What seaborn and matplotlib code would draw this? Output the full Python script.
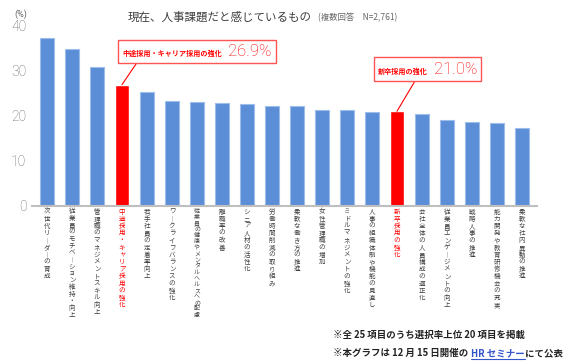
import numpy as np
import pandas as pd
import matplotlib
matplotlib.use("Agg")
import matplotlib.pyplot as plt
import matplotlib.transforms as mtransforms
import seaborn as sns
from matplotlib.offsetbox import TextArea, HPacker, AnnotationBbox
from matplotlib.lines import Line2D

# ------------------ Data ------------------
items = [
    "次世代リーダーの育成",
    "従業員のモチベーション維持・向上",
    "管理職のマネジメントスキル向上",
    "中途採用・キャリア採用の強化",
    "若手社員の定着率向上",
    "ワークライフバランスの強化",
    "従業員の健康やメンタルヘルスへの配慮",
    "離職率の改善",
    "シニア人材の活性化",
    "労働時間削減の取り組み",
    "柔軟な働き方の推進",
    "女性管理職の増加",
    "ミドルマネジメントの強化",
    "人事の組織体制や機能の見直し",
    "新卒採用の強化",
    "会社全体の人員構成の適正化",
    "従業員エンゲージメントの向上",
    "戦略人事の推進",
    "能力開発や教育研修機会の充実",
    "柔軟な社内異動の推進",
]
rates = [37.3, 34.8, 30.8, 26.9, 25.2, 23.3, 23.0, 22.8, 22.5, 22.1,
         22.1, 21.2, 21.2, 20.9, 21.0, 20.4, 19.0, 18.7, 18.3, 17.2]
highlight = ["中途採用・キャリア採用の強化", "新卒採用の強化"]
y_ticks = [0, 10, 20, 30, 40]

df = pd.DataFrame({"item": items, "rate": rates})

BLUE = "#5B8ED6"
RED = "#FF0000"
colors = {k: (RED if k in highlight else BLUE) for k in items}

sns.set_style("white")
plt.rcParams["font.family"] = ["Noto Sans CJK JP", "DejaVu Sans"]
NUMFONT = ["Roboto", "DejaVu Sans"]

W, H = 567, 363
fig = plt.figure(figsize=(W / 100, H / 100), dpi=100)
ax = fig.add_axes([32 / W, (H - 205.7) / H, 505 / W, 180 / H])

sns.barplot(data=df, x="item", y="rate", hue="item", palette=colors,
            legend=False, width=0.58, ax=ax, saturation=1)
for p, name in zip(ax.patches, items):
    if name not in highlight:
        p.set_edgecolor("#9DBDEB")
        p.set_linewidth(0.8)

ax.set_xlim(-0.6, len(items) - 0.4)
ax.set_ylim(0, 40)
ax.set_yticks(y_ticks)
ax.set_yticklabels([str(v) for v in y_ticks], fontsize=10, color="#666666",
                   family=NUMFONT, fontweight="light")
ax.set_xlabel("")
ax.set_ylabel("")
ax.set_xticks(range(len(items)))
ax.set_xticklabels([])
for s in ["top", "right", "left"]:
    ax.spines[s].set_visible(False)
ax.spines["bottom"].set_color("#BFBFBF")
ax.spines["bottom"].set_linewidth(1.5)
ax.tick_params(axis="both", length=0)
ax.tick_params(axis="y", pad=4)

# vertical (tategaki) labels, one glyph per row
trans = mtransforms.blended_transform_factory(ax.transData, fig.transFigure)
for i, name in enumerate(items):
    pitch = min(7.2, 110 / len(name))
    fs = min(4.7, pitch * 0.7)
    col = RED if name in highlight else "#404040"
    for k, c in enumerate(name):
        c = "︱" if c == "ー" else c
        ax.text(i, 1 - (208 + (k + 0.5) * pitch) / H, c, transform=trans,
                fontsize=fs, color=col, ha="center", va="center")

fig.text(14 / W, 1 - 14 / H, "(%)", fontsize=6.5, color="#666666",
         ha="left", va="center", family=NUMFONT)

# title
fig.text(128 / W, 1 - 17 / H, "現在、人事課題だと感じているもの", fontsize=8.3,
         color="#404040", ha="left", va="center")
fig.text(318 / W, 1 - 18 / H, "(複数回答　N=2,761)", fontsize=6, color="#666666",
         ha="left", va="center")

# callouts
def callout(label, value, idx, box_xy, line_from):
    small = TextArea(label, textprops=dict(fontsize=5.1, color=RED, fontweight="bold"))
    big = TextArea(f"{value:.1f}%", textprops=dict(fontsize=12, color=RED,
                                                  family=NUMFONT, fontweight="light"))
    pack = HPacker(children=[small, big], align="baseline", pad=0, sep=4)
    ab = AnnotationBbox(pack, (0, 0), xybox=box_xy, xycoords="figure pixels",
                        boxcoords="figure pixels", frameon=True,
                        bboxprops=dict(edgecolor="#FF5555", facecolor="white", lw=1),
                        pad=0.3)
    fig.add_artist(ab)
    ax.annotate("", xy=(idx, value), xycoords="data", xytext=line_from,
                textcoords="figure pixels",
                arrowprops=dict(arrowstyle="-", color=RED, lw=0.8,
                                shrinkA=0, shrinkB=0))

i1 = items.index(highlight[0])
i2 = items.index(highlight[1])
callout(highlight[0], rates[i1], i1, (197, H - 51.5), (136, H - 64))
callout(highlight[1], rates[i2], i2, (427.5, H - 69), (415, H - 81))

# footnotes
fn = dict(fontsize=6.8, fontweight="bold", va="center", ha="left")
fig.text(333 / W, 1 - 335 / H, "※全 25 項目のうち選択率上位 20 項目を掲載",
         color="#222222", **fn)
fig.canvas.draw()
r = fig.canvas.get_renderer()
inv = fig.transFigure.inverted()
y2 = 1 - 353 / H
t1 = fig.text(333 / W, y2, "※本グラフは 12 月 15 日開催の", color="#222222", **fn)
b1 = t1.get_window_extent(r)
x2 = inv.transform((b1.x1 + 3, 0))[0]
t2 = fig.text(x2, y2, "HR セミナー", color="#3355CC", **fn)
b2 = t2.get_window_extent(r)
x3 = inv.transform((b2.x1, 0))[0]
fig.text(x3, y2, "にて公表", color="#222222", **fn)
uy = inv.transform((0, b2.y0 - 0.5))[1]
fig.add_artist(Line2D([x2, x3], [uy, uy], color="#3355CC", lw=0.8,
                      transform=fig.transFigure))

fig.savefig("out.png", dpi=100)
